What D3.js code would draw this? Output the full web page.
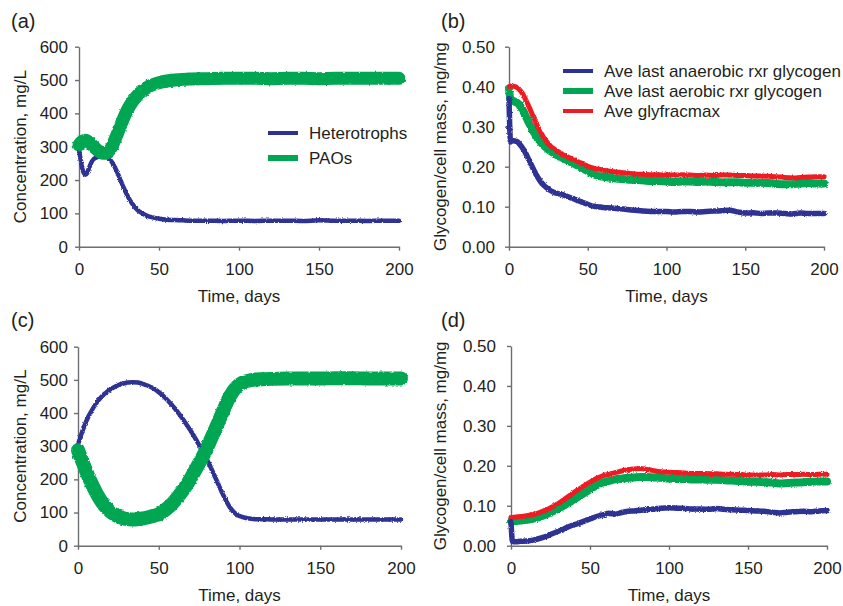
<!DOCTYPE html>
<html>
<head>
<meta charset="utf-8">
<script src="https://cdn.jsdelivr.net/npm/d3@7"></script>
<style>
  body { margin: 0; background: #fff; }
  svg { display: block; font-family: "Liberation Sans", Arial, sans-serif; }
  .axis path, .axis line { stroke: #6d6e71; stroke-width: 1.4; }
  .axis text { font-size: 17px; fill: #231f20; }
  .title { font-size: 17px; fill: #231f20; }
  .plabel { font-size: 20px; fill: #231f20; }
</style>
</head>
<body>
<svg id="chart" width="843" height="606"></svg>
<script>
// ---- data ----
var xTicks = [0, 50, 100, 150, 200];
var concTicks = [0, 100, 200, 300, 400, 500, 600];
var glyTicks = [0, 0.1, 0.2, 0.3, 0.4, 0.5];

// (a)
var daysA = [0,1,2,3,4,5,6,7,8,9,10,11,12,13,14,15,16,17,18,19,20,22,24,26,28,30,32,34,36,38,40,43,46,50,55,60,65,70,80,90,100,110,120,130,140,150,160,170,180,190,200];
var heteroA = [292,262,236,221,216,220,232,245,255,262,266,268,270,271,272,272,271,270,268,264,258,242,222,199,176,156,138,124,113,105,99,92,88,84,81,80,79,78,78,77,78,77,78,78,77,79,78,78,77,78,78];
var paoA = [305,312,316,318,319,318,315,311,306,301,296,292,288,285,282,280,280,281,284,289,296,316,339,363,387,408,425,439,451,461,469,479,486,492,497,500,502,503,504,505,505,505,504,505,505,504,505,505,505,505,505];

// (b)
var daysB = [0,1,2,3,4,5,6,7,8,9,10,12,14,16,18,20,22,24,26,28,30,32,34,36,38,40,42,44,46,48,50,52,54,56,58,60,65,70,75,80,85,90,95,100,105,110,115,120,125,130,135,140,145,150,155,160,165,170,175,180,185,190,195,200];
var anaerB = [0.370,0.262,0.265,0.265,0.264,0.263,0.260,0.255,0.250,0.244,0.238,0.222,0.206,0.190,0.175,0.163,0.154,0.147,0.141,0.137,0.134,0.132,0.130,0.127,0.124,0.121,0.118,0.115,0.112,0.109,0.106,0.103,0.101,0.100,0.099,0.098,0.097,0.095,0.093,0.091,0.089,0.088,0.088,0.088,0.087,0.088,0.088,0.087,0.088,0.089,0.090,0.091,0.087,0.084,0.085,0.083,0.084,0.084,0.083,0.082,0.084,0.083,0.083,0.083];
var aerB = [0.395,0.368,0.366,0.364,0.362,0.360,0.357,0.352,0.346,0.339,0.331,0.315,0.299,0.285,0.272,0.262,0.253,0.246,0.240,0.235,0.230,0.226,0.222,0.218,0.214,0.210,0.206,0.202,0.197,0.193,0.189,0.185,0.181,0.178,0.176,0.175,0.172,0.170,0.168,0.167,0.166,0.164,0.164,0.163,0.162,0.163,0.163,0.162,0.163,0.162,0.161,0.161,0.161,0.160,0.160,0.160,0.159,0.157,0.156,0.156,0.158,0.159,0.158,0.158];
var maxB = [0.400,0.402,0.402,0.401,0.400,0.398,0.395,0.391,0.386,0.380,0.372,0.356,0.338,0.320,0.302,0.287,0.273,0.262,0.253,0.246,0.240,0.236,0.231,0.227,0.223,0.219,0.216,0.212,0.209,0.205,0.201,0.198,0.196,0.194,0.193,0.191,0.188,0.186,0.184,0.182,0.181,0.180,0.180,0.179,0.179,0.180,0.179,0.178,0.179,0.178,0.179,0.179,0.178,0.178,0.177,0.177,0.176,0.175,0.173,0.172,0.173,0.174,0.175,0.175];

// (c)
var daysC = [0,2,4,6,8,10,12,14,16,18,20,22,25,28,31,34,37,40,43,46,50,54,58,62,66,70,74,78,82,86,90,94,98,102,106,110,115,120,130,140,150,160,170,180,190,200];
var heteroC = [305,335,362,385,403,420,434,446,456,464,471,477,484,489,492,493,492,488,483,476,463,446,425,401,374,345,312,277,238,195,152,116,95,86,82,80,80,79,79,79,79,79,79,79,79,79];
var paoC = [288,262,238,214,192,172,153,137,123,112,103,96,88,83,80,79,80,82,85,89,95,108,125,148,174,205,240,276,318,362,408,450,478,492,498,501,502,503,504,504,504,505,505,504,504,504];

// (d)
var daysD = [0,1,3,6,10,14,18,22,26,30,34,38,42,46,50,54,58,62,66,70,74,78,82,86,90,95,100,105,110,115,120,125,130,135,140,145,150,155,160,165,170,175,180,185,190,195,200];
var anaerD = [0.060,0.010,0.010,0.011,0.012,0.014,0.018,0.023,0.030,0.036,0.043,0.050,0.055,0.061,0.067,0.073,0.077,0.081,0.079,0.083,0.086,0.087,0.089,0.090,0.092,0.094,0.095,0.094,0.093,0.092,0.092,0.091,0.093,0.091,0.090,0.089,0.088,0.087,0.086,0.084,0.082,0.084,0.085,0.086,0.085,0.087,0.088];
var aerD = [0.061,0.061,0.062,0.063,0.065,0.067,0.072,0.078,0.085,0.093,0.102,0.111,0.121,0.131,0.141,0.151,0.158,0.162,0.166,0.168,0.170,0.171,0.172,0.172,0.171,0.170,0.168,0.167,0.167,0.166,0.166,0.165,0.165,0.164,0.163,0.162,0.160,0.160,0.159,0.158,0.156,0.157,0.158,0.159,0.160,0.161,0.161];
var maxD = [0.071,0.071,0.072,0.073,0.075,0.078,0.083,0.089,0.097,0.106,0.117,0.128,0.139,0.149,0.159,0.168,0.175,0.179,0.183,0.187,0.190,0.192,0.193,0.191,0.188,0.185,0.184,0.183,0.182,0.181,0.181,0.180,0.180,0.179,0.179,0.178,0.177,0.177,0.177,0.178,0.177,0.178,0.178,0.179,0.178,0.179,0.179];

var BLUE = '#2e3192', GREEN = '#00a651', RED = '#ed1c24';

var svg = d3.select('#chart');

// rough edges like the noisy simulation output
var defs = svg.append('defs');
function roughFilter(id, freq, scale) {
  var f = defs.append('filter').attr('id', id)
    .attr('x', '-5%').attr('y', '-10%').attr('width', '110%').attr('height', '120%');
  f.append('feTurbulence').attr('type', 'fractalNoise')
    .attr('baseFrequency', freq).attr('numOctaves', 1).attr('seed', 4).attr('result', 'n');
  f.append('feDisplacementMap').attr('in', 'SourceGraphic').attr('in2', 'n')
    .attr('scale', scale).attr('xChannelSelector', 'R').attr('yChannelSelector', 'G');
}
roughFilter('roughS', 0.8, 3);
roughFilter('roughL', 0.35, 3);

function drawPanel(p) {
  var x = d3.scaleLinear().domain([0, 200]).range([p.x0, p.x1]);
  var y = d3.scaleLinear().domain(p.ydom).range([p.yb, p.yt]);

  svg.append('g').attr('class', 'axis')
    .attr('transform', 'translate(' + p.x0 + ',0)')
    .call(d3.axisLeft(y).tickValues(p.yticks).tickFormat(p.fmt)
      .tickSize(4).tickSizeOuter(0).tickPadding(p.pad));

  svg.append('g').attr('class', 'axis')
    .attr('transform', 'translate(0,' + p.yb + ')')
    .call(d3.axisBottom(x).tickValues(xTicks).tickSize(4).tickSizeOuter(0).tickPadding(12));

  svg.selectAll('.axis .domain').attr('fill', 'none');

  var line = d3.line()
    .x(function(d) { return x(d[0]); })
    .y(function(d) { return y(d[1]); })
    .curve(d3.curveMonotoneX);

  p.series.forEach(function(s) {
    svg.append('path')
      .datum(d3.zip(s.days, s.vals))
      .attr('d', line)
      .attr('fill', 'none')
      .attr('stroke', s.color)
      .attr('stroke-width', s.w)
      .attr('stroke-linejoin', 'round')
      .attr('stroke-linecap', 'round')
      .attr('filter', s.filter);
  });

  // labels
  svg.append('text').attr('class', 'plabel')
    .attr('x', p.lx).attr('y', p.ly).text(p.label);

  svg.append('text').attr('class', 'title')
    .attr('text-anchor', 'middle')
    .attr('transform', 'translate(' + p.tx + ',' + ((p.yt + p.yb) / 2) + ') rotate(-90)')
    .text(p.ytitle);

  svg.append('text').attr('class', 'title')
    .attr('text-anchor', 'middle')
    .attr('x', (p.x0 + p.x1) / 2).attr('y', p.yb + 55)
    .text('Time, days');

  if (p.legend) {
    var lg = svg.append('g');
    p.legend.forEach(function(l, i) {
      var yy = p.legY + i * p.legStep;
      lg.append('line')
        .attr('x1', p.legX).attr('x2', p.legX + 30)
        .attr('y1', yy).attr('y2', yy)
        .attr('stroke', l.color).attr('stroke-width', l.w);
      lg.append('text').attr('class', 'title')
        .attr('x', p.legX + 41).attr('y', yy).attr('dy', '0.35em')
        .text(l.name);
    });
  }
}

var fmtInt = d3.format('d');
var fmt2 = d3.format('.2f');

drawPanel({
  label: '(a)', lx: 11, ly: 27.5,
  x0: 79, x1: 399, yt: 46.7, yb: 246.7, ydom: [0, 600], yticks: concTicks, fmt: fmtInt, pad: 7,
  tx: 26, ytitle: 'Concentration, mg/L',
  series: [
    { days: daysA, vals: heteroA, color: BLUE, w: 4.5, filter: 'url(#roughS)' },
    { days: daysA, vals: paoA, color: GREEN, w: 13, filter: 'url(#roughL)' }
  ],
  legX: 268, legY: 133, legStep: 25,
  legend: [ { name: 'Heterotrophs', color: BLUE, w: 4 }, { name: 'PAOs', color: GREEN, w: 6 } ]
});

drawPanel({
  label: '(b)', lx: 441, ly: 27.5,
  x0: 509, x1: 824, yt: 46.7, yb: 246.7, ydom: [0, 0.5], yticks: glyTicks, fmt: fmt2, pad: 10,
  tx: 446, ytitle: 'Glycogen/cell mass, mg/mg',
  series: [
    { days: daysB, vals: aerB, color: GREEN, w: 8, filter: 'url(#roughS)' },
    { days: daysB, vals: maxB, color: RED, w: 5, filter: 'url(#roughS)' },
    { days: daysB, vals: anaerB, color: BLUE, w: 5.5, filter: 'url(#roughS)' }
  ],
  legX: 563, legY: 71, legStep: 20,
  legend: [
    { name: 'Ave last anaerobic rxr glycogen', color: BLUE, w: 4 },
    { name: 'Ave last aerobic rxr glycogen', color: GREEN, w: 6 },
    { name: 'Ave glyfracmax', color: RED, w: 4 }
  ]
});

drawPanel({
  label: '(c)', lx: 11, ly: 326.5,
  x0: 78, x1: 401, yt: 346.7, yb: 545.7, ydom: [0, 600], yticks: concTicks, fmt: fmtInt, pad: 6,
  tx: 26, ytitle: 'Concentration, mg/L',
  series: [
    { days: daysC, vals: heteroC, color: BLUE, w: 4.5, filter: 'url(#roughS)' },
    { days: daysC, vals: paoC, color: GREEN, w: 14, filter: 'url(#roughL)' }
  ]
});

drawPanel({
  label: '(d)', lx: 441, ly: 326.5,
  x0: 511, x1: 827, yt: 346, yb: 545.7, ydom: [0, 0.5], yticks: glyTicks, fmt: fmt2, pad: 11,
  tx: 446, ytitle: 'Glycogen/cell mass, mg/mg',
  series: [
    { days: daysD, vals: aerD, color: GREEN, w: 8, filter: 'url(#roughS)' },
    { days: daysD, vals: maxD, color: RED, w: 5, filter: 'url(#roughS)' },
    { days: daysD, vals: anaerD, color: BLUE, w: 5.5, filter: 'url(#roughS)' }
  ]
});
</script>
</body>
</html>
